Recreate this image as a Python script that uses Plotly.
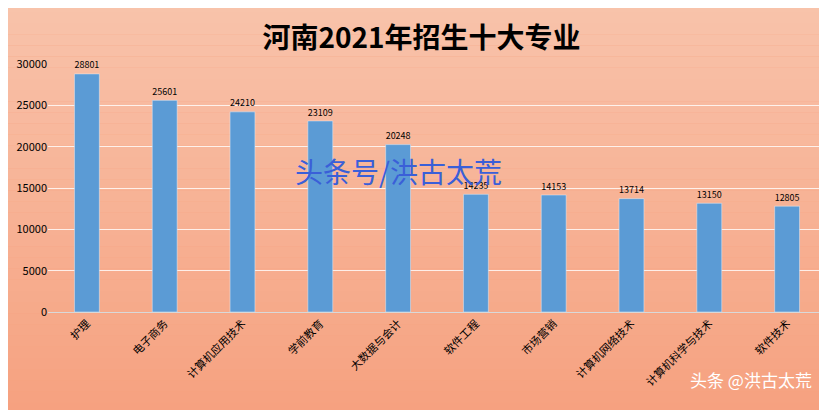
import plotly.graph_objects as go

majors = ["护理", "电子商务", "计算机应用技术", "学前教育", "大数据与会计",
          "软件工程", "市场营销", "计算机网络技术", "计算机科学与技术", "软件技术"]
students = [28801, 25601, 24210, 23109, 20248, 14235, 14153, 13714, 13150, 12805]
y_ticks = [0, 5000, 10000, 15000, 20000, 25000, 30000]

fig = go.Figure()
fig.add_trace(go.Bar(
    x=majors, y=students, marker_color="#5b9bd5", width=0.32,
    text=[str(v) for v in students], textposition="outside",
    textfont=dict(size=11, color="black"), cliponaxis=False,
))

# peach vertical gradient background
top, bot = (249, 196, 172), (246, 160, 126)
n = 40
shapes = []
for i in range(n):
    t = i / (n - 1)
    c = tuple(int(top[k] + (bot[k] - top[k]) * t) for k in range(3))
    shapes.append(dict(type="rect", xref="paper", yref="paper", layer="below",
                       x0=-0.1, x1=1.1, y0=1.3 - (i + 1) * 1.8 / n, y1=1.3 - i * 1.8 / n,
                       fillcolor="rgb(%d,%d,%d)" % c, line_width=0))

fig.update_layout(
    width=827, height=410,
    paper_bgcolor="rgb(246,162,128)", plot_bgcolor="rgba(0,0,0,0)",
    shapes=shapes,
    title=dict(text="<b>河南2021年招生十大专业</b>", x=0.5, y=0.95, xanchor="center",
               font=dict(size=28, color="black", family="Noto Sans CJK SC")),
    font=dict(family="Noto Sans CJK SC", size=11, color="black"),
    margin=dict(l=40, r=9, t=56, b=106),
    showlegend=False,
    bargap=0.6,
    xaxis=dict(tickangle=-45, showgrid=False, showline=True, linecolor="#d9d9d9",
               tickfont=dict(size=11), automargin=False),
    yaxis=dict(range=[0, 30000], tickvals=y_ticks, ticktext=[str(v) for v in y_ticks],
               gridcolor="rgba(255,255,255,0.8)", zeroline=False,
               tickfont=dict(size=11), automargin=False),
    annotations=[
        dict(text="头条号/洪古太荒", xref="paper", yref="paper", x=0.45, y=0.57,
             showarrow=False, font=dict(size=28, color="#3a5fd8")),
        dict(text="头条 @洪古太荒", xref="paper", yref="paper", x=0.985, y=-0.33,
             xanchor="right", showarrow=False, font=dict(size=17, color="white")),
    ],
)

fig.write_html("out.html")
